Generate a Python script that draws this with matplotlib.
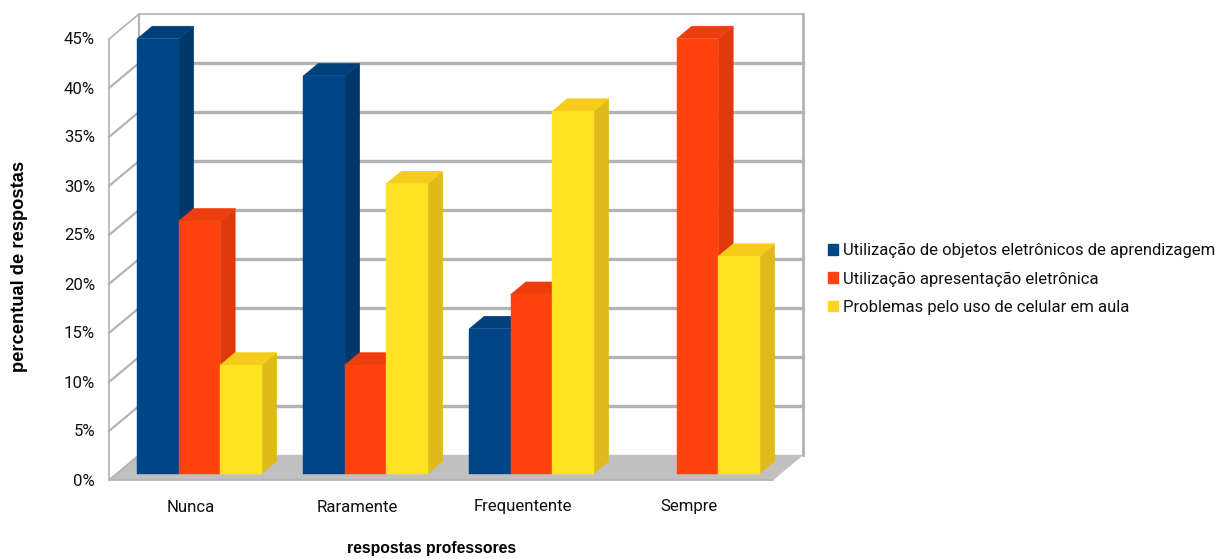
import matplotlib
matplotlib.use('Agg')
import matplotlib.pyplot as plt
from matplotlib.patches import Polygon, Patch

plt.rcParams['font.family'] = ['Roboto', 'Liberation Sans', 'DejaVu Sans']

categories = ['Nunca', 'Raramente', 'Frequentente', 'Sempre']
series_names = ['Utilização de objetos eletrônicos de aprendizagem',
                'Utilização apresentação eletrônica',
                'Problemas pelo uso de celular em aula']
objetos = [44.4, 40.6, 14.8, 0]
apresentacao = [25.8, 11.1, 18.3, 44.4]
celular = [11.1, 29.6, 37.0, 22.2]
y_ticks = [0, 5, 10, 15, 20, 25, 30, 35, 40, 45]

front_colors = ['#004586', '#ff420e', '#ffe320']
top_colors = ['#003f7a', '#ee3d0d', '#f5cc1c']
side_colors = ['#00386c', '#e0390c', '#e0ba1d']
legend_colors = ['#004586', '#ff420e', '#ffd320']

GREY = '#b3b3b3'
DX = 30 / 166    # shift of the full depth, in category units
DY = 25 / 9.8    # same, in percent units
BAR_W = 0.25


def pt(x, y, d):
    # oblique projection: d=0 is the front plane, d=1 the back wall
    return (x + DX * d, y + DY * d)


fig = plt.figure(figsize=(12.18, 5.59), dpi=100)
ax = fig.add_axes([109 / 1218, 79 / 559, 664 / 1218, 441 / 559])
ax.set_xlim(0, len(categories))
ax.set_ylim(0, 45)
ax.axis('off')


def line(p, q, lw):
    ax.plot([p[0], q[0]], [p[1], q[1]], color=GREY, lw=lw, clip_on=False,
            solid_capstyle='projecting', zorder=2)


def face(points, color, z=3):
    ax.add_patch(Polygon(points, closed=True, facecolor=color, edgecolor=color,
                         lw=0.3, clip_on=False, zorder=z))


n = len(categories)

# floor
face([pt(0, 0, 0), pt(n, 0, 0), pt(n, 0, 1), pt(0, 0, 1)], '#c0c0c0', z=1)
line(pt(0, 0, 0), pt(n, 0, 0), 1.2)

# walls
line(pt(0, 0, 0), pt(0, 45, 0), 1.2)
line(pt(0, 0, 1), pt(0, 45, 1), 1.5)
line(pt(n, 0, 1), pt(n, 45, 1), 2.0)
line(pt(0, 0, 0), pt(0, 0, 1), 1.2)
for t in y_ticks[1:]:
    line(pt(0, t, 0), pt(0, t, 1), 1.2 if t == 45 else 1.6)
    line(pt(0, t, 1), pt(n, t, 1), 1.2 if t == 45 else 2.4)

# bars, left to right so the later fronts cover earlier sides
all_series = [objetos, apresentacao, celular]
for i in range(n):
    x0 = i + 0.5 - 1.5 * BAR_W
    for j, values in enumerate(all_series):
        v = values[i]
        if v == 0:
            continue
        xa = x0 + j * BAR_W
        xb = xa + BAR_W
        face([pt(xb, 0, .25), pt(xb, 0, .75), pt(xb, v, .75), pt(xb, v, .25)], side_colors[j])
        face([pt(xa, v, .25), pt(xb, v, .25), pt(xb, v, .75), pt(xa, v, .75)], top_colors[j])
        face([pt(xa, 0, .25), pt(xb, 0, .25), pt(xb, v, .25), pt(xa, v, .25)], front_colors[j])

# tick labels
for t in y_ticks:
    ax.annotate(f'{t}%', (0, t), xytext=(-14, -1), textcoords='offset pixels',
                ha='right', va='center', fontsize=12.1, color='#111111')
for i, c in enumerate(categories):
    ax.annotate(c, (i + 0.5, 0), xytext=(-1, -27), textcoords='offset pixels',
                ha='center', va='center', fontsize=12.1, color='#111111')

fig.text(20 / 1218, 1 - 266 / 559, 'percentual de respostas', rotation=90,
         ha='center', va='center', fontsize=13.2, fontweight='bold',
         family=['Liberation Sans', 'DejaVu Sans'])
fig.text(432 / 1218, 1 - 548 / 559, 'respostas professores',
         ha='center', va='center', fontsize=11.3, fontweight='bold',
         family=['Liberation Sans', 'DejaVu Sans'])

handles = [Patch(facecolor=c, edgecolor=c) for c in legend_colors]
fig.legend(handles, series_names, loc='center left',
           bbox_to_anchor=(828 / 1218, 1 - 279 / 559), frameon=False,
           fontsize=12.0, handlelength=0.6, handleheight=0.6, handletextpad=0.3,
           labelspacing=0.8, borderpad=0, borderaxespad=0, labelcolor='#111111')

fig.savefig('out.png', dpi=100)
